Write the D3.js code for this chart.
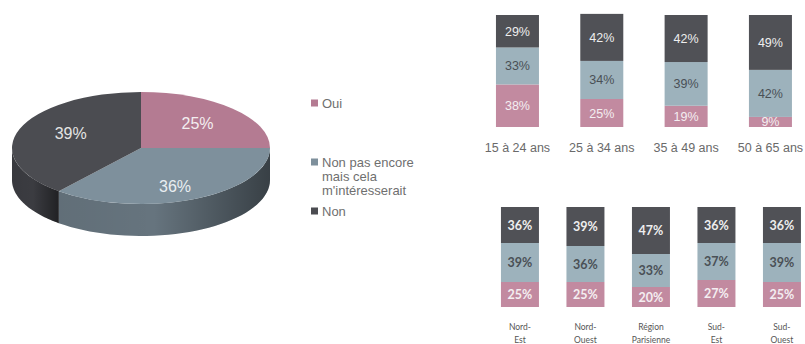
<!DOCTYPE html>
<html><head><meta charset="utf-8">
<script src="https://cdn.jsdelivr.net/npm/d3@7"></script>
<style>html,body{margin:0;padding:0;background:#fff;}svg{display:block;}</style>
</head><body>
<svg id="c" width="805" height="344"></svg>
<script>
// ---- data ----
const pieLabels = ["Oui", "Non pas encore mais cela m'intéresserait", "Non"];
const legendLines = [["Oui"], ["Non pas encore", "mais cela", "m'intéresserait"], ["Non"]];
const pieValues = [25, 36, 39];

const ageGroups = ["15 à 24 ans", "25 à 34 ans", "35 à 49 ans", "50 à 65 ans"];
const ageOui = [38, 25, 19, 9];
const ageNonPas = [33, 34, 39, 42];
const ageNon = [29, 42, 42, 49];

const regions = [["Nord-", "Est"], ["Nord-", "Ouest"], ["Région", "Parisienne"], ["Sud-", "Est"], ["Sud-", "Ouest"]];
const regOui = [25, 25, 20, 27, 25];
const regNonPas = [39, 36, 33, 37, 39];
const regNon = [36, 39, 47, 36, 36];

// ---- styles ----
const pieTop = ["#b47b92", "#7e909c", "#4b4c51"];
const pieSide = ["#8f5f72", "#66747e", "#3b3c41"];
const barCols = ["#c28aa0", "#9db2bc", "#505156"];
const barText = ["#f4eef1", "#4a5056", "#eeeeee"];

const svg = d3.select("#c");
const defs = svg.append("defs");
const grad = defs.append("linearGradient").attr("id", "shade").attr("x1", 0).attr("x2", 1).attr("y1", 0).attr("y2", 0);
grad.append("stop").attr("offset", "0%").attr("stop-color", "#000").attr("stop-opacity", 0.05);
grad.append("stop").attr("offset", "45%").attr("stop-color", "#000").attr("stop-opacity", 0.0);
grad.append("stop").attr("offset", "100%").attr("stop-color", "#000").attr("stop-opacity", 0.45);

// ---- 3D pie ----
const cx = 141, cy = 148, rx = 129, ry = 56, depth = 32;
const pie = d3.pie().sort(null).value(d => d);
const arcs = pie(pieValues);
const P = (a, dy) => [cx + rx * Math.sin(a), cy - ry * Math.cos(a) + (dy || 0)];
const gPie = svg.append("g");

// side walls (front half: angles between PI/2 and 3PI/2)
arcs.forEach((d, i) => {
  const a0 = Math.max(d.startAngle, Math.PI / 2), a1 = Math.min(d.endAngle, 3 * Math.PI / 2);
  if (a1 <= a0) return;
  const n = 40, top = [], bot = [];
  for (let k = 0; k <= n; k++) {
    const a = a0 + (a1 - a0) * k / n;
    top.push(P(a, 0)); bot.push(P(a, depth));
  }
  const pts = top.concat(bot.reverse());
  const path = "M" + pts.map(p => p.join(",")).join("L") + "Z";
  gPie.append("path").attr("d", path).attr("fill", pieSide[i]);
  gPie.append("path").attr("d", path).attr("fill", "url(#shade)");
});

// top face
const arcGen = d3.arc().innerRadius(0).outerRadius(rx);
const gTop = gPie.append("g").attr("transform", `translate(${cx},${cy}) scale(1,${ry / rx})`);
gTop.selectAll("path").data(arcs).join("path")
  .attr("d", arcGen).attr("fill", (d, i) => pieTop[i]);

const labelArc = d3.arc().innerRadius(0).outerRadius(rx * 1.24);
const labelAdj = [[0, 0], [0, 7], [5, -3]];
gPie.selectAll("text.pl").data(arcs).join("text").attr("class", "pl")
  .attr("x", (d, i) => cx + labelArc.centroid(d)[0] + labelAdj[i][0])
  .attr("y", (d, i) => cy + labelArc.centroid(d)[1] * ry / rx + labelAdj[i][1])
  .attr("text-anchor", "middle").attr("dy", "0.36em")
  .attr("font-family", "Liberation Sans, Arial, sans-serif").attr("font-size", 16)
  .attr("fill", (d, i) => ["#f3eef0", "#e9eef1", "#e4e4e4"][i])
  .text(d => d.value + "%");

// ---- legend ----
const legY = [103, 162, 211];
const gLeg = svg.append("g").attr("font-family", "Liberation Sans, Arial, sans-serif").attr("font-size", 13).attr("fill", "#6f6f6f");
legendLines.forEach((lines, i) => {
  gLeg.append("rect").attr("x", 311).attr("y", legY[i] - 3.5).attr("width", 7).attr("height", 7).attr("fill", pieTop[i]);
  lines.forEach((t, j) => {
    gLeg.append("text").attr("x", 322).attr("y", legY[i] + j * 14).attr("dy", "0.36em").text(t);
  });
});

// ---- stacked bars helper ----
function stackedBars(cats, oui, nonpas, non, xr, pin, yr, font, fsize, fweight) {
  const x = d3.scaleBand().domain(d3.range(cats.length)).range(xr).paddingInner(pin).paddingOuter(pin / 2);
  const y = d3.scaleLinear().domain([0, 100]).range(yr);
  const rows = cats.map((c, i) => ({ i, oui: oui[i], nonpas: nonpas[i], non: non[i] }));
  const series = d3.stack().keys(["oui", "nonpas", "non"])(rows);
  const g = svg.append("g");
  series.forEach((s, si) => {
    g.selectAll(null).data(s).join("rect")
      .attr("x", d => x(d.data.i)).attr("width", x.bandwidth())
      .attr("y", d => y(d[1])).attr("height", d => y(d[0]) - y(d[1]))
      .attr("fill", barCols[si]);
    g.selectAll(null).data(s).join("text")
      .attr("x", d => x(d.data.i) + x.bandwidth() / 2)
      .attr("y", d => (y(d[0]) + y(d[1])) / 2).attr("dy", "0.36em")
      .attr("text-anchor", "middle").attr("font-family", font).attr("font-size", fsize).attr("font-weight", fweight)
      .attr("fill", barText[si]).text(d => (d[1] - d[0]) + "%");
  });
  return { x, y, g };
}

// age chart
const age = stackedBars(ageGroups, ageOui, ageNonPas, ageNon, [475.3, 812.6], 0.49, [127, 15],
  "Liberation Sans, Arial, sans-serif", 12.5, "normal");
age.g.selectAll("text.cat").data(ageGroups).join("text").attr("class", "cat")
  .attr("x", (d, i) => age.x(i) + age.x.bandwidth() / 2).attr("y", 147).attr("dy", "0.36em")
  .attr("text-anchor", "middle").attr("font-family", "Liberation Sans, Arial, sans-serif")
  .attr("font-size", 12.5).attr("fill", "#6a6a6a").text(d => d);

// region chart
const reg = stackedBars(regions, regOui, regNonPas, regNon, [487.2, 814.7], 0.42, [307, 207],
  "Lato, sans-serif", 12.5, "bold");
regions.forEach((lines, i) => {
  lines.forEach((t, j) => {
    reg.g.append("text").attr("x", reg.x(i) + reg.x.bandwidth() / 2).attr("y", 327 + j * 13).attr("dy", "0.36em")
      .attr("text-anchor", "middle").attr("font-family", "Lato, sans-serif").attr("font-size", 8.5)
      .attr("fill", "#555").text(t);
  });
});
</script>
</body></html>
